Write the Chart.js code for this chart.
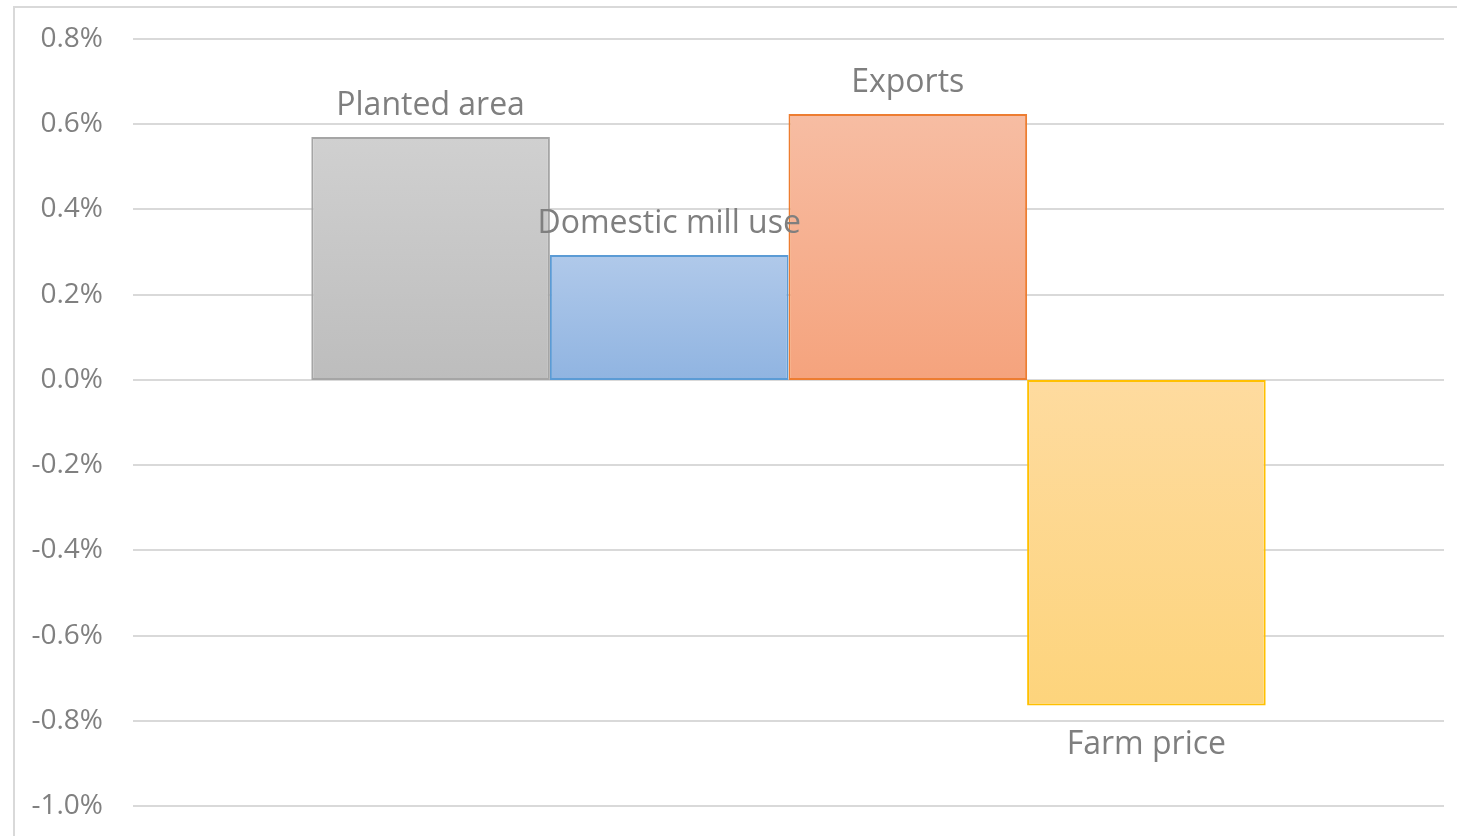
<!DOCTYPE html>
<html>
<head>
<meta charset="utf-8">
<title>Bar chart</title>
<script src="https://cdn.jsdelivr.net/npm/chart.js@4"></script>
<style>
  html, body { margin: 0; padding: 0; background: #fff; overflow: hidden; }
  #wrap { position: relative; width: 1457px; height: 836px; }
  #frame { position: absolute; left: 13px; top: 6px; width: 1500px; height: 900px;
           border-left: 2px solid #d9d9d9; border-top: 2px solid #d9d9d9; }
  #chart { position: absolute; left: 0; top: 0; }
</style>
</head>
<body>
<div id="wrap">
  <div id="frame"></div>
  <canvas id="chart" width="1457" height="836"></canvas>
</div>
<script>
// Chart data
const categories = [''];
const seriesNames = ['Planted area', 'Domestic mill use', 'Exports', 'Farm price'];
const seriesValues = [0.57, 0.293, 0.624, -0.764];
const yMin = -1.0;
const yMax = 0.8;
const yStep = 0.2;

// Colours: gradient top, gradient bottom, border
const gradTop = ['#d0d0d0', '#b0c9ea', '#f7bda3', '#fedb9f'];
const gradBottom = ['#bdbdbd', '#90b4e1', '#f5a37d', '#fdd47c'];
const borderColors = ['#a5a5a5', '#5b9bd5', '#ed7d31', '#ffc000'];

const gridColor = '#d9d9d9';
const labelFont = '32px "Open Sans"';
const labelColor = '#7f7f7f';

const isZero = (v) => Math.abs(v) < 1e-9;

function barGradient(ctx, i) {
  const chart = ctx.chart;
  const y = chart.scales && chart.scales.y;
  if (!chart.chartArea || !y) return gradTop[i];
  const v = seriesValues[i];
  const top = y.getPixelForValue(Math.max(v, 0));
  const bottom = y.getPixelForValue(Math.min(v, 0));
  const g = chart.ctx.createLinearGradient(0, top, 0, bottom);
  g.addColorStop(0, gradTop[i]);
  g.addColorStop(1, gradBottom[i]);
  return g;
}

// zero line drawn here so bars sit right on it (Chart.js shifts bars off the base gridline)
const zeroLine = {
  id: 'zeroLine',
  beforeDatasetsDraw(chart) {
    const ctx = chart.ctx;
    const area = chart.chartArea;
    const y0 = chart.scales.y.getPixelForValue(0);
    ctx.save();
    ctx.strokeStyle = gridColor;
    ctx.lineWidth = 2;
    ctx.beginPath();
    ctx.moveTo(area.left, y0);
    ctx.lineTo(area.right, y0);
    ctx.stroke();
    ctx.restore();
  }
};

// series names beside each bar
const barLabels = {
  id: 'barLabels',
  afterDatasetsDraw(chart) {
    const ctx = chart.ctx;
    ctx.save();
    ctx.font = labelFont;
    ctx.fillStyle = labelColor;
    ctx.textAlign = 'center';
    ctx.textBaseline = 'middle';
    chart.data.datasets.forEach((ds, i) => {
      const bar = chart.getDatasetMeta(i).data[0];
      const v = ds.data[0];
      const y = v >= 0 ? bar.y - 31 : bar.y + 39;
      ctx.fillText(ds.label, bar.x, y);
    });
    ctx.restore();
  }
};

const datasets = seriesNames.map((name, i) => ({
  label: name,
  data: [seriesValues[i]],
  backgroundColor: (ctx) => barGradient(ctx, i),
  borderColor: borderColors[i],
  borderWidth: 2,
  borderSkipped: false,
  categoryPercentage: 0.728,
  barPercentage: 1.0
}));

new Chart(document.getElementById('chart').getContext('2d'), {
  type: 'bar',
  data: { labels: categories, datasets: datasets },
  options: {
    responsive: false,
    animation: false,
    layout: { padding: { left: 0, right: 13, top: 39, bottom: 30 } },
    plugins: {
      legend: { display: false },
      tooltip: { enabled: false }
    },
    scales: {
      x: {
        display: false
      },
      y: {
        min: yMin,
        max: yMax,
        border: { display: false },
        grid: {
          color: gridColor,
          lineWidth: (c) => (c.tick && isZero(c.tick.value) ? 0 : 2),
          drawTicks: false
        },
        ticks: {
          stepSize: yStep,
          padding: 30,
          color: '#808080',
          font: { family: 'Open Sans', size: 28 },
          callback: (v) => (isZero(v) ? 0 : v).toFixed(1) + '%'
        },
        afterFit: (s) => {
          s.width = 133;
          s.paddingTop = 0;
          s.paddingBottom = 0;
        }
      }
    }
  },
  plugins: [zeroLine, barLabels]
});
</script>
</body>
</html>
